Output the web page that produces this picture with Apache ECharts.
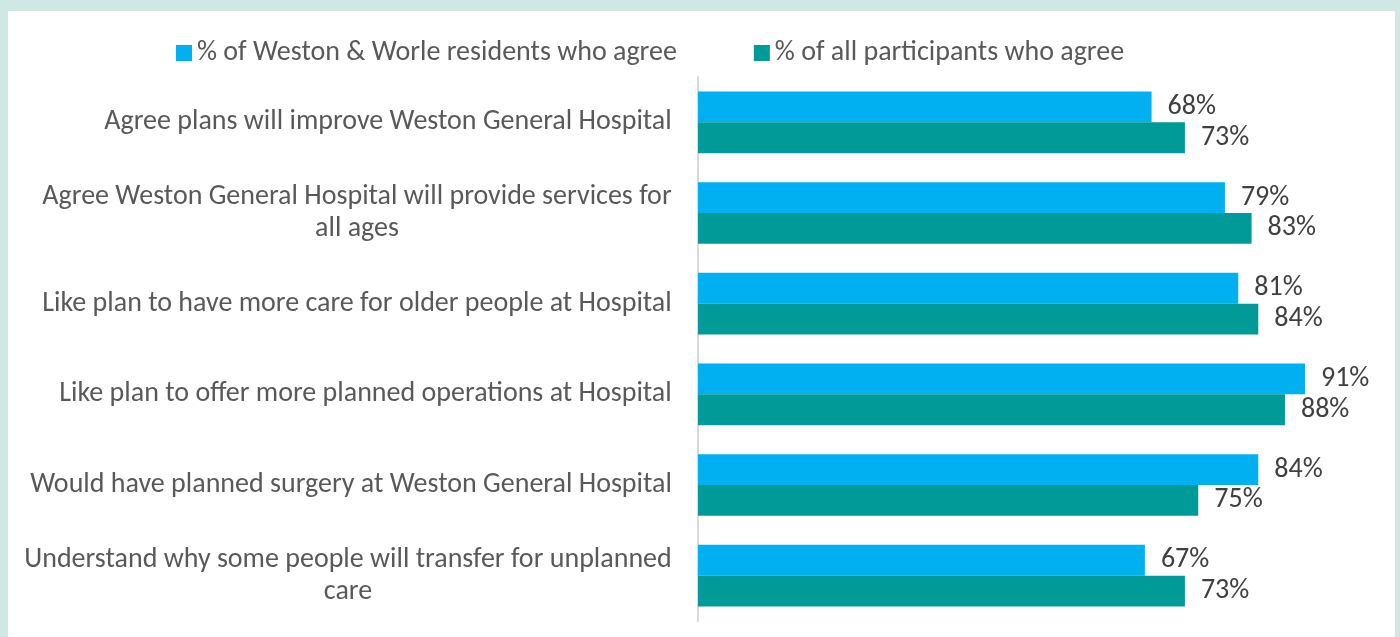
<!DOCTYPE html>
<html>
<head>
<meta charset="utf-8">
<script src="https://cdn.jsdelivr.net/npm/echarts@6/dist/echarts.min.js"></script>
<style>
  html, body { margin: 0; padding: 0; background: #cfe8e4; }
  #panel { position: absolute; left: 8px; top: 11px; width: 1387px; height: 626px; background: #fff; }
  #main { position: absolute; left: 0; top: 0; width: 1400px; height: 637px; }
</style>
</head>
<body>
<div id="panel"></div>
<div id="main"></div>
<script>
// data
const categories = [
    'Agree plans will improve Weston General Hospital',
    'Agree Weston General Hospital will provide services for\nall ages',
    'Like plan to have more care for older people at Hospital',
    'Like plan to offer more planned operations at Hospital',
    'Would have planned surgery at Weston General Hospital',
    'Understand why some people will transfer for unplanned\ncare'
];
const westonWorle = [68, 79, 81, 91, 84, 67];
const allParticipants = [73, 83, 84, 88, 75, 73];
const seriesNames = ['% of Weston & Worle residents who agree', '% of all participants who agree'];

const FONT = 'Carlito, Calibri, Lato, sans-serif';
const labelSize = 28;

// wrapped labels are centred on their longest line, like in the original
let ctx = document.createElement('canvas').getContext('2d');
ctx.font = labelSize + 'px ' + FONT;
function widest(txt){
    let w = 0;
    txt.split('\n').forEach((line)=>{ w = Math.max(w, ctx.measureText(line).width); });
    return Math.ceil(w);
}
const rich = {};
categories.forEach((c, i)=>{
    rich['l' + i] = { width: widest(c), align: 'center', fontSize: labelSize, fontFamily: FONT, color: '#595959', lineHeight: 32 };
});

let myChart = echarts.init(document.getElementById('main'));

myChart.setOption({
    backgroundColor: 'transparent',
    textStyle: { fontFamily: FONT },
    legend: {
        top: 34,
        left: 171,
        itemWidth: 16,
        itemHeight: 16,
        itemGap: 77,
        icon: 'rect',
        textStyle: { fontSize: labelSize, color: '#595959', fontFamily: FONT },
        data: seriesNames
    },
    grid: { left: 698, top: 77, width: 667, height: 544 },
    xAxis: {
        type: 'value',
        min: 0,
        max: 100,
        show: false
    },
    yAxis: {
        type: 'category',
        inverse: true,
        data: categories,
        axisLine: { show: true, lineStyle: { color: '#d9d9d9', width: 2 } },
        axisTick: { show: false },
        axisLabel: {
            margin: 26,
            formatter: function(value, idx){
                return value.split('\n').map((line)=> '{l' + idx + '|' + line + '}').join('\n');
            },
            rich: rich
        }
    },
    series: [
        {
            name: seriesNames[0],
            type: 'bar',
            data: westonWorle,
            barGap: '0%',
            barCategoryGap: '32%',
            itemStyle: { color: '#00b0f0' },
            label: { show: true, position: 'right', distance: 16, formatter: '{c}%', fontSize: labelSize, color: '#404040', fontFamily: FONT }
        },
        {
            name: seriesNames[1],
            type: 'bar',
            data: allParticipants,
            barGap: '0%',
            barCategoryGap: '32%',
            itemStyle: { color: '#009a98' },
            label: { show: true, position: 'right', distance: 16, formatter: '{c}%', fontSize: labelSize, color: '#404040', fontFamily: FONT }
        }
    ]
});
</script>
</body>
</html>
